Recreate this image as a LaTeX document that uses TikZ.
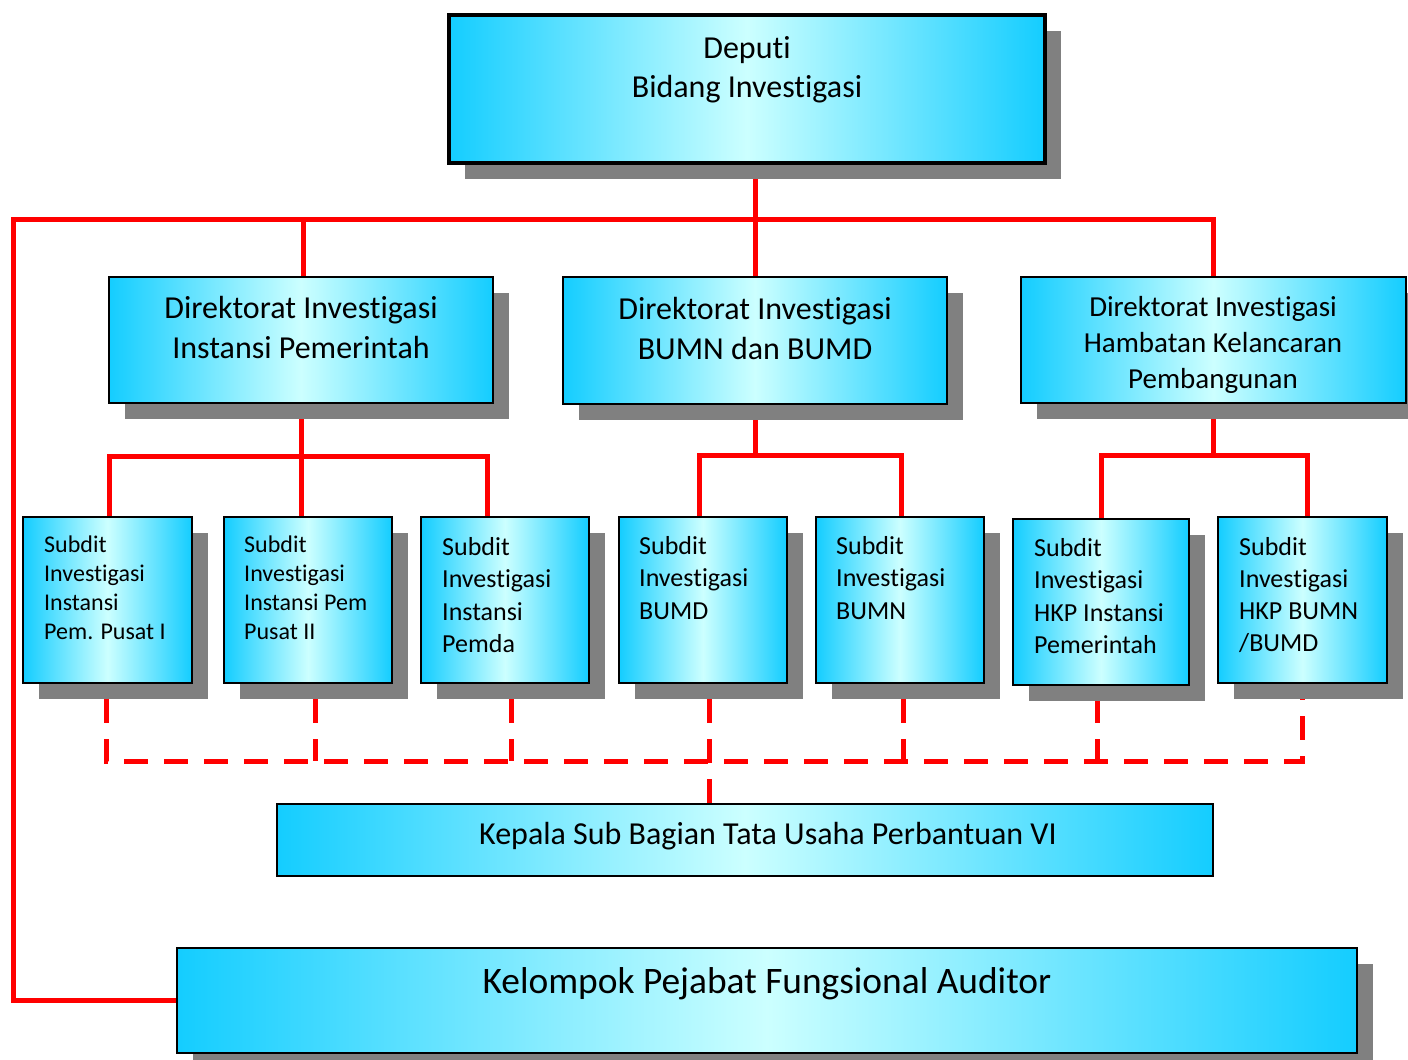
\documentclass[tikz,border=0pt]{standalone}
\usepackage{fontspec}
\setmainfont[Ligatures={NoCommon}]{Carlito}
\usetikzlibrary{shadows,backgrounds}
\definecolor{cyanA}{RGB}{20,205,255}
\definecolor{cyanB}{RGB}{204,255,255}
\definecolor{shadowgray}{RGB}{128,128,128}
\begin{document}
\begin{tikzpicture}[x=1pt,y=-1pt,
  box/.style={rectangle, draw=black, line width=1.6pt, inner sep=0pt,
    left color=cyanA, right color=cyanA, middle color=cyanB},
  shbox/.style={box, drop shadow={shadow xshift=16pt, shadow yshift=-16pt, fill=shadowgray, opacity=1}},
  redline/.style={draw=red, line width=5pt},
  dashline/.style={draw=red, line width=5pt, dash pattern=on 24pt off 16pt},
  txt/.style={inner sep=0pt, align=center},
  ltxt/.style={inner sep=0pt, align=left, anchor=west},
  fA/.style={font=\fontsize{32}{39}\selectfont},
  fB/.style={font=\fontsize{32}{40}\selectfont},
  fC/.style={font=\fontsize{29}{36}\selectfont},
  fD/.style={font=\fontsize{24}{29}\selectfont},
  fE/.style={font=\fontsize{26}{32.3}\selectfont},
  fF/.style={font=\fontsize{32}{39}\selectfont},
  fG/.style={font=\fontsize{37.4}{45}\selectfont}
]
\useasboundingbox (0,0) rectangle (1408,1060);

% boxes
\node[shbox, line width=4pt, minimum width=596pt, minimum height=148pt] (dep) at (747,89) {};
\node[shbox, minimum width=384pt, minimum height=126pt] (d1) at (301,340) {};
\node[shbox, minimum width=384pt, minimum height=127pt] (d2) at (755,340.5) {};
\node[shbox, minimum width=385pt, minimum height=126pt] (d3) at (1213.5,340) {};
\node[shbox, minimum width=169pt, minimum height=166pt] (s1) at (107.5,600) {};
\node[shbox, minimum width=168pt, minimum height=166pt] (s2) at (308,600) {};
\node[shbox, minimum width=168pt, minimum height=166pt] (s3) at (505,600) {};
\node[shbox, minimum width=168pt, minimum height=166pt] (s4) at (703,600) {};
\node[shbox, minimum width=168pt, minimum height=166pt] (s5) at (900,600) {};
\node[shbox, minimum width=176pt, minimum height=166pt] (s6) at (1101,602) {};
\node[shbox, minimum width=169pt, minimum height=166pt] (s7) at (1302.5,600) {};
\node[box, minimum width=936pt, minimum height=72pt] (kep) at (745,840) {};
\node[shbox, minimum width=1180pt, minimum height=105pt] (kel) at (767,1000.5) {};

% texts
\node[txt, fA] (tdep) at (747,70) {Deputi\\Bidang Investigasi};
\node[txt, fB] (td1) at (301,328) {Direktorat Investigasi\\Instansi Pemerintah};
\node[txt, fB] (td2) at (755,328.5) {Direktorat Investigasi\\BUMN dan BUMD};
\node[txt, fC] (td3) at (1213,345) {Direktorat Investigasi\\Hambatan Kelancaran\\Pembangunan};
\node[ltxt, fD] (ts1) at (44,588) {Subdit\\Investigasi\\Instansi\\Pem. Pusat I};
\node[ltxt, fD] (ts2) at (244,588) {Subdit\\Investigasi\\Instansi Pem\\Pusat II};
\node[ltxt, fE] (ts3) at (442,595) {Subdit\\Investigasi\\Instansi\\Pemda};
\node[ltxt, fE] (ts4) at (639,578) {Subdit\\Investigasi\\BUMD};
\node[ltxt, fE] (ts5) at (836,578) {Subdit\\Investigasi\\BUMN};
\node[ltxt, fE] (ts6) at (1034,596) {Subdit\\Investigasi\\HKP Instansi\\Pemerintah};
\node[ltxt, fE] (ts7) at (1239,595) {Subdit\\Investigasi\\HKP BUMN\\/BUMD};
\node[txt, fF] (tkep) at (768,836) {Kepala Sub Bagian Tata Usaha Perbantuan VI};
\node[txt, fG] (tkel) at (767,984) {Kelompok Pejabat Fungsional Auditor};

% helper coordinates
\coordinate (bus) at (0,219);
\coordinate (lft) at (13,219);
\coordinate (b1) at (0,456);
\coordinate (b2) at (0,455);
\coordinate (sh) at (0,699);
\coordinate (db) at (0,761);

\begin{pgfonlayer}{background}
\fill[white] (0,0) rectangle (1408,1060);
% top level
\draw[redline] (d2.north) -- (d2.north |- dep.south);
\draw[redline] ([xshift=2pt]d1.north) -- ([xshift=2pt]d1.north |- bus) -- (d3.north |- bus) -- (d3.north);
\draw[redline] ([xshift=2pt]d1.north |- bus) -- (lft) -- (lft |- kel.west) -- (kel.west);
% dir 1
\draw[redline] (d1.south) -- (d1.south |- s2.north);
\draw[redline] ([xshift=1.5pt]s1.north) -- ([xshift=1.5pt]s1.north |- b1) -- ([xshift=-18pt]s3.north |- b1) -- ([xshift=-18pt]s3.north);
% dir 2
\draw[redline] (d2.south) -- (d2.south |- b2);
\draw[redline] ([xshift=-4pt]s4.north) -- ([xshift=-4pt]s4.north |- b2) -- ([xshift=1pt]s5.north |- b2) -- ([xshift=1pt]s5.north);
% dir 3
\draw[redline] (d3.south) -- (d3.south |- b2);
\draw[redline] (s6.north) -- (s6.north |- b2) -- ([xshift=4.5pt]s7.north |- b2) -- ([xshift=4.5pt]s7.north);
% dashed
\draw[dashline] ([xshift=-1.5pt]s1.south |- sh) -- ([xshift=-1.5pt]s1.south |- db) -- (s7.south |- db) -- (s7.south |- sh);
\draw[dashline] ([xshift=7pt]s2.south |- sh) -- ([xshift=7pt]s2.south |- db);
\draw[dashline] ([xshift=6pt]s3.south |- sh) -- ([xshift=6pt]s3.south |- db);
\draw[dashline] ([xshift=6pt]s4.south |- sh) -- ([xshift=6pt]s4.south |- kep.north);
\draw[dashline] ([xshift=3pt]s5.south |- sh) -- ([xshift=3pt]s5.south |- db);
\draw[dashline] ([xshift=-4pt]s6.south |- sh) -- ([xshift=-4pt]s6.south |- db);
\end{pgfonlayer}
\end{tikzpicture}
\end{document}
